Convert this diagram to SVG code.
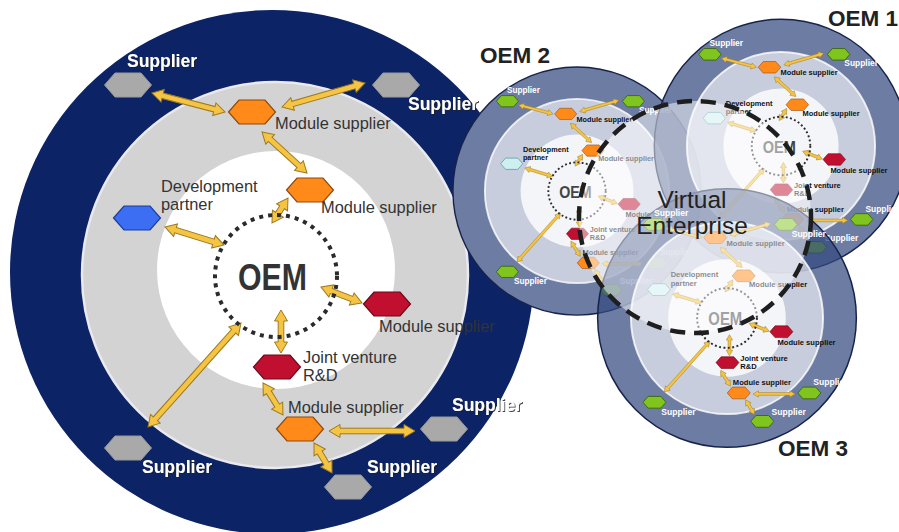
<svg xmlns="http://www.w3.org/2000/svg" xmlns:xlink="http://www.w3.org/1999/xlink" width="899" height="532" viewBox="0 0 899 532">
<style>
text{font-family:"Liberation Sans",Arial,Helvetica,sans-serif}
.arr{fill:#f6c443;stroke:#9c7a22;stroke-width:1}
.hg{fill:#a9a9a9;stroke:#999;stroke-width:1}
.ho{fill:#ff8a1a;stroke:#8c4a0c;stroke-width:1.2}
.hr{fill:#c10f2f;stroke:#6a0a18;stroke-width:1.2}
.hb{fill:#3b6ef2;stroke:#1c3c9a;stroke-width:1.2}
.hgn{fill:#80c41e;stroke:#3d6a12;stroke-width:2}
.hc{fill:#cdeff2;stroke:#6fa5aa;stroke-width:2}
.dot{fill:none;stroke:#2b2b2b;stroke-width:4;stroke-dasharray:4 5}
.ls{font-weight:bold;font-size:17.5px;fill:#fff}
.sh{filter:url(#sh)}
.lm{font-size:16.4px;fill:#333}
.lsm{font-weight:bold;font-size:15.5px;fill:#111}
.oem{font-weight:bold;font-size:36px;fill:#333}
.oems{font-weight:bold;font-size:36px;fill:#444}
.big{font-weight:bold;font-size:22.5px;fill:#222}
.ve{font-size:24.5px;fill:#222}
</style>
<defs>
<filter id="sh" x="-10%" y="-30%" width="130%" height="170%"><feDropShadow dx="1" dy="1" stdDeviation="0.6" flood-color="#222" flood-opacity="0.85"/></filter>
<polygon id="hx" points="-23.5,0 -13,-12 13,-12 23.5,0 13,12 -13,12"/>
<polygon id="a1" transform="translate(152,93) rotate(14.6)" points="0,0 11,-6.5 11,-2.8 64.4,-2.8 64.4,-6.5 75.4,0 64.4,6.5 64.4,2.8 11,2.8 11,6.5"/>
<polygon id="a2" transform="translate(282,107) rotate(-16.1)" points="0,0 11,-6.5 11,-2.8 75.4,-2.8 75.4,-6.5 86.4,0 75.4,6.5 75.4,2.8 11,2.8 11,6.5"/>
<polygon id="a3" transform="translate(262,132) rotate(42.3)" points="0,0 11,-6.5 11,-2.8 49.9,-2.8 49.9,-6.5 60.9,0 49.9,6.5 49.9,2.8 11,2.8 11,6.5"/>
<polygon id="a4" transform="translate(288,198) rotate(122.6)" points="0,0 11,-6.5 11,-2.8 18.7,-2.8 18.7,-6.5 29.7,0 18.7,6.5 18.7,2.8 11,2.8 11,6.5"/>
<polygon id="a5" transform="translate(165,227) rotate(17)" points="0,0 11,-6.5 11,-2.8 50.7,-2.8 50.7,-6.5 61.7,0 50.7,6.5 50.7,2.8 11,2.8 11,6.5"/>
<polygon id="a6" transform="translate(321,287) rotate(21.3)" points="0,0 11,-6.5 11,-2.8 33,-2.8 33,-6.5 44,0 33,6.5 33,2.8 11,2.8 11,6.5"/>
<polygon id="a7" transform="translate(281,310) rotate(90)" points="0,0 11,-6.5 11,-2.8 32,-2.8 32,-6.5 43,0 32,6.5 32,2.8 11,2.8 11,6.5"/>
<polygon id="a8" transform="translate(241,323) rotate(131.8)" points="0,0 11,-6.5 11,-2.8 128.5,-2.8 128.5,-6.5 139.5,0 128.5,6.5 128.5,2.8 11,2.8 11,6.5"/>
<polygon id="a9" transform="translate(263,383) rotate(58)" points="0,0 11,-6.5 11,-2.8 26.7,-2.8 26.7,-6.5 37.7,0 26.7,6.5 26.7,2.8 11,2.8 11,6.5"/>
<polygon id="a10" transform="translate(329,431)" points="0,0 11,-6.5 11,-2.8 75,-2.8 75,-6.5 86,0 75,6.5 75,2.8 11,2.8 11,6.5"/>
<polygon id="a11" transform="translate(314,443) rotate(59)" points="0,0 11,-6.5 11,-2.8 24,-2.8 24,-6.5 35,0 24,6.5 24,2.8 11,2.8 11,6.5"/>
</defs>

<!-- Main OEM -->
<g id="main">
<circle cx="272" cy="272" r="262" fill="#0c2466"/>
<circle cx="275" cy="275" r="193" fill="#d3d3d3" stroke="#e9e9ef" stroke-width="2.5"/>
<circle cx="276" cy="270" r="119" fill="#fff"/>
<g id="main-connectors" class="arr">
<use xlink:href="#a1"/><use xlink:href="#a2"/><use xlink:href="#a3"/><use xlink:href="#a4"/><use xlink:href="#a5"/><use xlink:href="#a6"/><use xlink:href="#a7"/><use xlink:href="#a8"/><use xlink:href="#a9"/><use xlink:href="#a10"/><use xlink:href="#a11"/>
</g>
<g id="main-oem"><circle cx="276" cy="276" r="61" class="dot"/><text class="oem" x="272.5" y="290" text-anchor="middle" textLength="69" lengthAdjust="spacingAndGlyphs">OEM</text></g>
<g id="main-supTL"><use xlink:href="#hx" x="128" y="85" class="hg"/><text class="ls sh" x="127" y="67">Supplier</text></g>
<g id="main-supTR"><use xlink:href="#hx" x="396" y="85" class="hg"/><text class="ls sh" x="408" y="110">Supplier</text></g>
<g id="main-modTop"><use xlink:href="#hx" x="252" y="112" class="ho"/><text class="lm" x="275" y="129">Module supplier</text></g>
<g id="main-mod2"><use xlink:href="#hx" x="310" y="190" class="ho"/><text class="lm" x="321" y="213">Module supplier</text></g>
<g id="main-dev"><use xlink:href="#hx" x="137" y="218" class="hb"/><text class="lm" x="161" y="192">Development</text><text class="lm" x="161" y="210">partner</text></g>
<g id="main-modR"><use xlink:href="#hx" x="387" y="304" class="hr"/><text class="lm" x="379" y="332">Module supplier</text></g>
<g id="main-jv"><use xlink:href="#hx" x="277" y="367" class="hr"/><text class="lm" x="303" y="363">Joint venture</text><text class="lm" x="303" y="381">R&amp;D</text></g>
<g id="main-modB"><use xlink:href="#hx" x="300" y="429" class="ho"/><text class="lm" x="288" y="413">Module supplier</text></g>
<g id="main-supRB"><use xlink:href="#hx" x="444" y="429" class="hg"/><text class="ls sh" x="452" y="411">Supplier</text></g>
<g id="main-supBL"><use xlink:href="#hx" x="128" y="448" class="hg"/><text class="ls sh" x="142" y="473">Supplier</text></g>
<g id="main-supB"><use xlink:href="#hx" x="348" y="487" class="hg"/><text class="ls sh" x="367" y="473">Supplier</text></g>
</g>

<!-- OEM 2 -->
<g id="oem2" transform="translate(577,191) scale(0.47) translate(-276,-276)">
<circle cx="276" cy="276" r="264" fill="#fff"/>
<circle cx="276" cy="276" r="264" fill="#0c2466" fill-opacity="0.6" stroke="#16224a" stroke-width="3"/>
<circle cx="276" cy="276" r="196" fill="#fff" fill-opacity="0.62" stroke="#fff" stroke-width="4" stroke-opacity="0.8"/>
<circle cx="276" cy="276" r="120" fill="#fff" fill-opacity="0.8"/>
<g id="oem2-connectors" class="arr">
<use xlink:href="#a1"/><use xlink:href="#a2"/><use xlink:href="#a3"/><use xlink:href="#a4"/><use xlink:href="#a5"/><use xlink:href="#a6"/><use xlink:href="#a7"/><use xlink:href="#a8"/><use xlink:href="#a9"/><use xlink:href="#a10"/><use xlink:href="#a11"/>
</g>
<g id="oem2-oem"><circle cx="276" cy="276" r="61" class="dot"/><text class="oems" x="272.5" y="290" text-anchor="middle" textLength="69" lengthAdjust="spacingAndGlyphs">OEM</text></g>
<g id="oem2-supTL"><use xlink:href="#hx" x="128" y="85" class="hgn"/><text class="ls" x="127" y="67">Supplier</text></g>
<g id="oem2-supTR"><use xlink:href="#hx" x="396" y="85" class="hgn"/><text class="ls" x="408" y="110">Supplier</text></g>
<g id="oem2-modTop"><use xlink:href="#hx" x="252" y="112" class="ho"/><text class="lsm" x="275" y="129">Module supplier</text></g>
<g id="oem2-mod2"><use xlink:href="#hx" x="310" y="190" class="ho"/><text class="lsm" x="321" y="213">Module supplier</text></g>
<g id="oem2-dev"><use xlink:href="#hx" x="137" y="218" class="hc"/><text class="lsm" x="161" y="192">Development</text><text class="lsm" x="161" y="210">partner</text></g>
<g id="oem2-modR"><use xlink:href="#hx" x="387" y="304" class="hr"/><text class="lsm" x="379" y="332">Module supplier</text></g>
<g id="oem2-jv"><use xlink:href="#hx" x="277" y="367" class="hr"/><text class="lsm" x="303" y="363">Joint venture</text><text class="lsm" x="303" y="381">R&amp;D</text></g>
<g id="oem2-modB"><use xlink:href="#hx" x="300" y="429" class="ho"/><text class="lsm" x="288" y="413">Module supplier</text></g>
<g id="oem2-supRB"><use xlink:href="#hx" x="444" y="429" class="hgn"/><text class="ls" x="452" y="413">Supplier</text></g>
<g id="oem2-supBL"><use xlink:href="#hx" x="128" y="448" class="hgn"/><text class="ls" x="142" y="473">Supplier</text></g>
<g id="oem2-supB"><use xlink:href="#hx" x="348" y="487" class="hgn"/><text class="ls" x="367" y="473">Supplier</text></g>
</g>

<!-- OEM 1 -->
<g id="oem1" transform="translate(781,146) scale(0.48) translate(-276,-276)">
<circle cx="276" cy="276" r="264" fill="#fff" fill-opacity="0.5"/>
<circle cx="276" cy="276" r="264" fill="#0c2466" fill-opacity="0.6" stroke="#16224a" stroke-width="3"/>
<circle cx="276" cy="276" r="196" fill="#fff" fill-opacity="0.62" stroke="#fff" stroke-width="4" stroke-opacity="0.8"/>
<circle cx="276" cy="276" r="120" fill="#fff" fill-opacity="0.8"/>
<g id="oem1-connectors" class="arr">
<use xlink:href="#a1"/><use xlink:href="#a2"/><use xlink:href="#a3"/><use xlink:href="#a4"/><use xlink:href="#a5"/><use xlink:href="#a6"/><use xlink:href="#a7"/><use xlink:href="#a8"/><use xlink:href="#a9"/><use xlink:href="#a10"/><use xlink:href="#a11"/>
</g>
<g id="oem1-oem"><circle cx="276" cy="276" r="61" class="dot"/><text class="oems" x="272.5" y="290" text-anchor="middle" textLength="69" lengthAdjust="spacingAndGlyphs">OEM</text></g>
<g id="oem1-supTL"><use xlink:href="#hx" x="128" y="85" class="hgn"/><text class="ls" x="127" y="67">Supplier</text></g>
<g id="oem1-supTR"><use xlink:href="#hx" x="396" y="85" class="hgn"/><text class="ls" x="408" y="110">Supplier</text></g>
<g id="oem1-modTop"><use xlink:href="#hx" x="252" y="112" class="ho"/><text class="lsm" x="275" y="129">Module supplier</text></g>
<g id="oem1-mod2"><use xlink:href="#hx" x="310" y="190" class="ho"/><text class="lsm" x="321" y="213">Module supplier</text></g>
<g id="oem1-dev"><use xlink:href="#hx" x="137" y="218" class="hc"/><text class="lsm" x="161" y="192">Development</text><text class="lsm" x="161" y="210">partner</text></g>
<g id="oem1-modR"><use xlink:href="#hx" x="387" y="304" class="hr"/><text class="lsm" x="379" y="332">Module supplier</text></g>
<g id="oem1-jv"><use xlink:href="#hx" x="277" y="367" class="hr"/><text class="lsm" x="303" y="363">Joint venture</text><text class="lsm" x="303" y="381">R&amp;D</text></g>
<g id="oem1-modB"><use xlink:href="#hx" x="300" y="429" class="ho"/><text class="lsm" x="288" y="413">Module supplier</text></g>
<g id="oem1-supRB"><use xlink:href="#hx" x="444" y="429" class="hgn"/><text class="ls" x="452" y="413">Supplier</text></g>
<g id="oem1-supBL"><use xlink:href="#hx" x="128" y="448" class="hgn"/><text class="ls" x="142" y="473">Supplier</text></g>
<g id="oem1-supB"><use xlink:href="#hx" x="348" y="487" class="hgn"/><text class="ls" x="367" y="473">Supplier</text></g>
</g>

<!-- OEM 3 -->
<g id="oem3" transform="translate(727,318) scale(0.49) translate(-276,-276)">
<circle cx="276" cy="276" r="264" fill="#fff" fill-opacity="0.3"/>
<circle cx="276" cy="276" r="264" fill="#0c2466" fill-opacity="0.6" stroke="#16224a" stroke-width="3"/>
<circle cx="276" cy="276" r="196" fill="#fff" fill-opacity="0.62" stroke="#fff" stroke-width="4" stroke-opacity="0.8"/>
<circle cx="276" cy="276" r="120" fill="#fff" fill-opacity="0.8"/>
<g id="oem3-connectors" class="arr">
<use xlink:href="#a1"/><use xlink:href="#a2"/><use xlink:href="#a3"/><use xlink:href="#a4"/><use xlink:href="#a5"/><use xlink:href="#a6"/><use xlink:href="#a7"/><use xlink:href="#a8"/><use xlink:href="#a9"/><use xlink:href="#a10"/><use xlink:href="#a11"/>
</g>
<g id="oem3-oem"><circle cx="276" cy="276" r="61" class="dot"/><text class="oems" x="272.5" y="290" text-anchor="middle" textLength="69" lengthAdjust="spacingAndGlyphs">OEM</text></g>
<g id="oem3-supTL"><use xlink:href="#hx" x="128" y="85" class="hgn"/><text class="ls" x="127" y="67">Supplier</text></g>
<g id="oem3-supTR"><use xlink:href="#hx" x="396" y="85" class="hgn"/><text class="ls" x="408" y="110">Supplier</text></g>
<g id="oem3-modTop"><use xlink:href="#hx" x="252" y="112" class="ho"/><text class="lsm" x="275" y="129">Module supplier</text></g>
<g id="oem3-mod2"><use xlink:href="#hx" x="310" y="190" class="ho"/><text class="lsm" x="321" y="213">Module supplier</text></g>
<g id="oem3-dev"><use xlink:href="#hx" x="137" y="218" class="hc"/><text class="lsm" x="161" y="192">Development</text><text class="lsm" x="161" y="210">partner</text></g>
<g id="oem3-modR"><use xlink:href="#hx" x="387" y="304" class="hr"/><text class="lsm" x="379" y="332">Module supplier</text></g>
<g id="oem3-jv"><use xlink:href="#hx" x="277" y="367" class="hr"/><text class="lsm" x="303" y="363">Joint venture</text><text class="lsm" x="303" y="381">R&amp;D</text></g>
<g id="oem3-modB"><use xlink:href="#hx" x="300" y="429" class="ho"/><text class="lsm" x="288" y="413">Module supplier</text></g>
<g id="oem3-supRB"><use xlink:href="#hx" x="444" y="429" class="hgn"/><text class="ls" x="452" y="413">Supplier</text></g>
<g id="oem3-supBL"><use xlink:href="#hx" x="128" y="448" class="hgn"/><text class="ls" x="142" y="473">Supplier</text></g>
<g id="oem3-supB"><use xlink:href="#hx" x="348" y="487" class="hgn"/><text class="ls" x="367" y="473">Supplier</text></g>
</g>

<!-- Virtual Enterprise -->
<g id="virtual-enterprise">
<circle cx="695" cy="217" r="116" fill="#fff" fill-opacity="0.5"/>
<circle cx="695" cy="217" r="116" fill="none" stroke="#1e1e1e" stroke-width="4.5" stroke-dasharray="15 9"/>
<text class="ve" x="692" y="208" text-anchor="middle">Virtual</text>
<text class="ve" x="692" y="234" text-anchor="middle">Enterprise</text>
</g>

<g id="oem-labels">
<text class="big" x="480" y="63">OEM 2</text>
<text class="big" x="828" y="26">OEM 1</text>
<text class="big" x="778" y="456">OEM 3</text>
</g>
</svg>
